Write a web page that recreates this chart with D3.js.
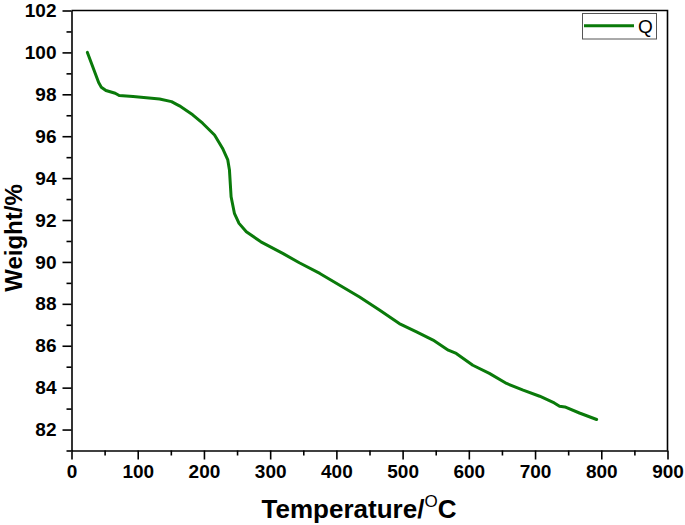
<!DOCTYPE html>
<html>
<head>
<meta charset="utf-8">
<script src="https://cdn.jsdelivr.net/npm/d3@7"></script>
<style>
  body { margin: 0; background: #fff; }
  svg { display: block; font-family: Arial, "Liberation Sans", sans-serif; }
  .eje path, .eje line { stroke: #000; stroke-width: 1.6px; }
  .eje text { font-size: 19px; font-weight: bold; fill: #000; }
</style>
</head>
<body>
<div id="graf"></div>
<script>
// datos
temperatura = [24, 41, 45, 52, 66, 72, 93, 113, 133, 151, 163, 183, 198, 216, 228, 236, 238.5, 241, 246, 253, 264, 286, 319, 344, 375, 405, 435, 465, 495, 521, 546, 569, 581, 606, 631, 657, 682, 707, 729, 737, 745, 767, 793]
peso = [100.0, 98.56, 98.34, 98.18, 98.05, 97.94, 97.89, 97.84, 97.78, 97.65, 97.45, 97.02, 96.62, 96.06, 95.43, 94.87, 94.39, 93.11, 92.32, 91.84, 91.44, 90.96, 90.41, 89.96, 89.45, 88.89, 88.33, 87.70, 87.06, 86.66, 86.27, 85.79, 85.63, 85.07, 84.68, 84.20, 83.88, 83.59, 83.27, 83.11, 83.08, 82.79, 82.48]
serie = 'Q'
xTicks = [0, 100, 200, 300, 400, 500, 600, 700, 800, 900]
yTicks = [82, 84, 86, 88, 90, 92, 94, 96, 98, 100, 102]

ancho_total = 685
alto_total = 525
margins = { top: 10.5, left: 71.5, right: 17.5, bottom: 74.5 }

svg = d3.select('#graf').append('svg')
  .attr('width', ancho_total)
  .attr('height', alto_total)

x = d3.scaleLinear().domain([0, 900]).range([margins.left, ancho_total - margins.right])
y = d3.scaleLinear().domain([81, 102]).range([alto_total - margins.bottom, margins.top])

// marco superior y derecho
svg.append('path')
  .attr('d', `M${x(0)},${y(102)}H${x(900)}V${y(81)}`)
  .attr('fill', 'none').attr('stroke', '#000').attr('stroke-width', 1.6)

// ticks menores
svg.append('g').attr('class', 'eje')
  .attr('transform', `translate(0, ${y(81)})`)
  .call(d3.axisBottom(x).tickValues(d3.range(50, 900, 100)).tickSize(5).tickFormat(''))
  .select('.domain').remove()
svg.append('g').attr('class', 'eje')
  .attr('transform', `translate(${x(0)}, 0)`)
  .call(d3.axisLeft(y).tickValues(d3.range(81, 102, 2)).tickSize(5).tickFormat(''))
  .select('.domain').remove()

// ejes principales
xAxis = svg.append('g').attr('class', 'eje')
  .attr('transform', `translate(0, ${y(81)})`)
  .call(d3.axisBottom(x).tickValues(xTicks).tickSize(9).tickSizeOuter(0).tickPadding(5))
yAxis = svg.append('g').attr('class', 'eje')
  .attr('transform', `translate(${x(0)}, 0)`)
  .call(d3.axisLeft(y).tickValues(yTicks).tickSize(9).tickSizeOuter(0).tickPadding(6))

// curva
datos = temperatura.map((t, i) => ({ t: t, w: peso[i] }))
linea = d3.line().x(d => x(d.t)).y(d => y(d.w))
svg.append('path')
  .datum(datos)
  .attr('d', linea)
  .attr('fill', 'none')
  .attr('stroke', '#0a7a0a')
  .attr('stroke-width', 3)
  .attr('stroke-linejoin', 'round')
  .attr('stroke-linecap', 'round')

// leyenda
leyenda = svg.append('g')
leyenda.append('rect')
  .attr('x', 582.5).attr('y', 13.5).attr('width', 74).attr('height', 25.5)
  .attr('fill', '#fff').attr('stroke', '#555').attr('stroke-width', 1)
leyenda.append('line')
  .attr('x1', 584).attr('x2', 634).attr('y1', 25.7).attr('y2', 25.7)
  .attr('stroke', '#0a7a0a').attr('stroke-width', 3)
leyenda.append('text')
  .attr('x', 638).attr('y', 33)
  .style('font-size', '19px')
  .text(serie)

// titulos de ejes
titulo = svg.append('text')
  .attr('x', 359).attr('y', 518)
  .attr('text-anchor', 'middle')
  .style('font-size', '26px').style('font-weight', 'bold')
titulo.append('tspan').text('Temperature/')
titulo.append('tspan').attr('dy', -11).style('font-size', '17px').style('font-weight', 'normal').text('O')
titulo.append('tspan').attr('dy', 11).text('C')

svg.append('text')
  .attr('transform', `translate(22, 238) rotate(-90)`)
  .attr('text-anchor', 'middle')
  .style('font-size', '24px').style('font-weight', 'bold')
  .text('Weight/%')
</script>
</body>
</html>
